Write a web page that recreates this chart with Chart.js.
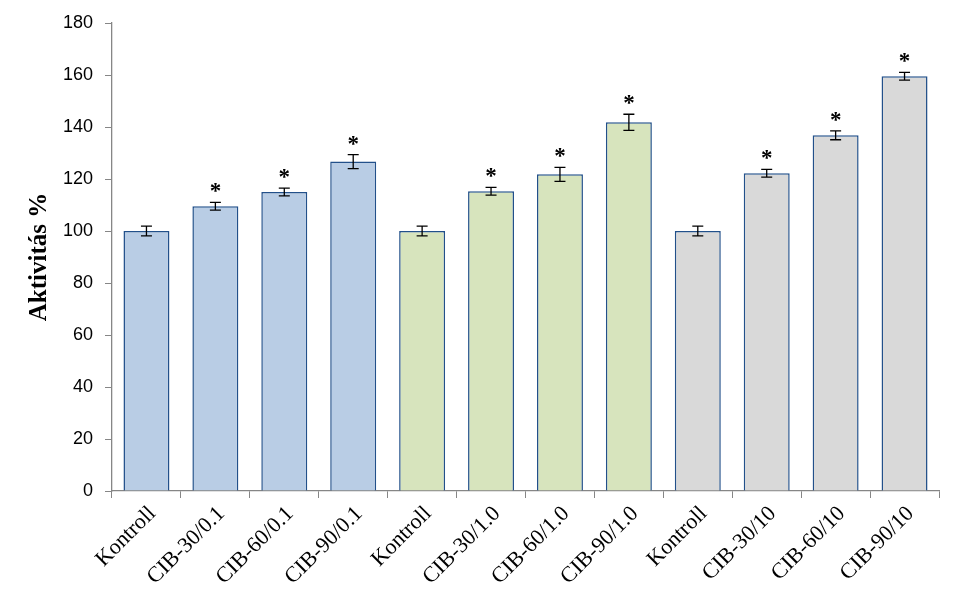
<!DOCTYPE html>
<html>
<head>
<meta charset="utf-8">
<script src="https://cdn.jsdelivr.net/npm/chart.js@4.4.0/dist/chart.umd.min.js"></script>
<style>
  html, body { margin: 0; padding: 0; background: #fff; }
  #wrap { width: 963px; height: 599px; }
</style>
</head>
<body>
<div id="wrap"><canvas id="chart"></canvas></div>
<script>
// Aktivitás % per treatment group, with error bars and significance marks
const labels = ['Kontroll', 'CIB-30/0.1', 'CIB-60/0.1', 'CIB-90/0.1',
                'Kontroll', 'CIB-30/1.0', 'CIB-60/1.0', 'CIB-90/1.0',
                'Kontroll', 'CIB-30/10', 'CIB-60/10', 'CIB-90/10'];
const activity = [100, 109.5, 115, 126.7, 100, 115.3, 121.8, 141.8, 100, 122.2, 136.8, 159.5];
const errors = [1.9, 1.5, 1.5, 2.7, 1.9, 1.5, 2.7, 3.1, 1.9, 1.5, 1.7, 1.5];
const significant = [false, true, true, true, false, true, true, true, false, true, true, true];
const groupColors = ['#B9CDE5', '#D7E4BD', '#D9D9D9'];
const yTicks = [0, 20, 40, 60, 80, 100, 120, 140, 160, 180];

const barColors = labels.map((l, i) => groupColors[Math.floor(i / 4)]);

// error bars + asterisks drawn on top of the bars
const errorBarPlugin = {
  id: 'errorBars',
  afterDatasetsDraw(chart) {
    const ctx = chart.ctx;
    const x = chart.scales.x, y = chart.scales.y;
    ctx.save();
    ctx.strokeStyle = '#000';
    ctx.lineWidth = 1.3;
    activity.forEach((v, i) => {
      const cx = x.getPixelForValue(i);
      const top = y.getPixelForValue(v + errors[i]);
      const bot = y.getPixelForValue(v - errors[i]);
      ctx.beginPath();
      ctx.moveTo(cx, top); ctx.lineTo(cx, bot);
      ctx.moveTo(cx - 5.5, top); ctx.lineTo(cx + 5.5, top);
      ctx.moveTo(cx - 5.5, bot); ctx.lineTo(cx + 5.5, bot);
      ctx.stroke();
      if (significant[i]) {
        ctx.fillStyle = '#000';
        ctx.font = 'bold 23px "Liberation Serif"';
        ctx.textAlign = 'center';
        ctx.textBaseline = 'alphabetic';
        ctx.fillText('*', cx, top - 4);
      }
    });
    ctx.restore();
  }
};

new Chart(document.getElementById('chart'), {
  type: 'bar',
  data: {
    labels: labels,
    datasets: [{
      data: activity,
      backgroundColor: barColors,
      borderColor: '#22508A',
      borderWidth: 1.5,
      barPercentage: 0.667,
      categoryPercentage: 1.0
    }]
  },
  options: {
    responsive: true,
    maintainAspectRatio: false,
    animation: false,
    layout: { padding: { top: 23, right: 24, left: 0, bottom: 0 } },
    plugins: { legend: { display: false }, tooltip: { enabled: false } },
    scales: {
      x: {
        grid: { display: true, drawOnChartArea: false, drawTicks: true, tickLength: 7, color: '#868686', offset: true },
        border: { color: '#868686', width: 1.3 },
        ticks: {
          color: '#000',
          font: { family: '"Liberation Serif"', size: 22 },
          minRotation: 45, maxRotation: 45, autoSkip: false,
          padding: 3, labelOffset: 6
        },
        afterFit(scale) { scale.height = 108; }
      },
      y: {
        min: 0, max: 180,
        afterBuildTicks(scale) { scale.ticks = yTicks.map(v => ({ value: v })); },
        grid: { display: true, drawOnChartArea: false, drawTicks: true, tickLength: 7, color: '#868686' },
        border: { color: '#868686', width: 1.3 },
        ticks: {
          color: '#000',
          font: { family: '"Liberation Sans"', size: 18 },
          padding: 12
        },
        title: {
          display: true,
          text: 'Aktivitás %',
          color: '#000',
          font: { family: '"Liberation Serif"', size: 25, weight: 'bold' },
          padding: { top: 25, bottom: 0 }
        },
        afterFit(scale) { scale.width = 112; }
      }
    }
  },
  plugins: [errorBarPlugin]
});
</script>
</body>
</html>
